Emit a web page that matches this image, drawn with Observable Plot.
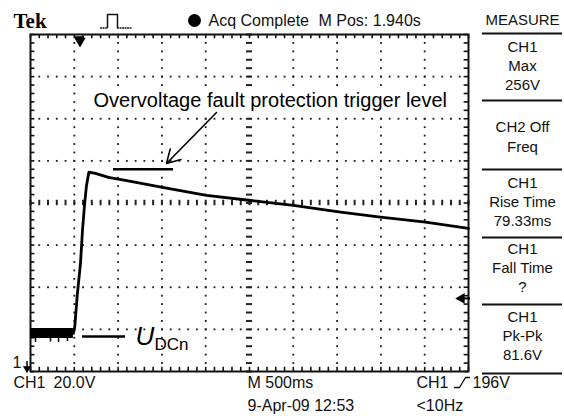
<!DOCTYPE html>
<html><head><meta charset="utf-8">
<script src="https://cdn.jsdelivr.net/npm/d3@7"></script>
<script src="https://cdn.jsdelivr.net/npm/@observablehq/plot@0.6"></script>
<style>html,body{margin:0;padding:0;background:#fff}</style>
</head><body><div id="chart"></div>
<script>
// ---- scope settings ----
const secPerDiv = 0.5;          // M 500ms
const voltsPerDiv = 20;         // CH1 20.0V
const hDivs = 10, vDivs = 8;
const screenBottomV = 161.3;    // volts at bottom graticule edge
const triggerLevelV = 196;      // CH1 trigger level

// ---- CH1 trace (time in s from left edge, volts) ----
const bandTime = [0, 0.49];
const bandLow = [177.0, 177.0];
const bandHigh = [181.7, 181.7];
const spikeTime = [0.057, 0.228, 0.320, 0.422];
const spikeLow = [175.1, 175.3, 175.1, 175.5];
const traceTime  = [0.49, 0.506, 0.533, 0.571, 0.594, 0.616, 0.639, 0.666, 0.742, 0.89, 1.084, 1.507, 2.009, 2.489, 3.002, 3.539, 3.995, 4.509, 5.0];
const traceVolts = [179.4, 182.8, 197.2, 212.9, 228.6, 240.0, 249.5, 255.9, 255.4, 253.5, 252.0, 248.7, 244.9, 242.6, 240.2, 237.0, 234.6, 232.2, 229.3];

// ---- annotation levels ----
const ovpLevelV = 257.3;   // overvoltage trigger level line
const udcLevelV = 177.9;   // U_DCn marker line

// ---- texts ----
const brand = "Tek";
const acqStatus = "Acq Complete";
const mPos = "M Pos: 1.940s";
const measureTitle = "MEASURE";
const measureBlocks = [["CH1", "Max", "256V"], ["CH2 Off", "Freq"], ["CH1", "Rise Time", "79.33ms"], ["CH1", "Fall Time", "?"], ["CH1", "Pk-Pk", "81.6V"]];
const chScale = ["CH1", "20.0V"];
const timebase = "M 500ms";
const trigInfo = ["CH1", "196V"];
const dateStamp = "9-Apr-09 12:53";
const freqInfo = "<10Hz";
const annotOvp = "Overvoltage fault protection trigger level";
const annotU = ["U", "DCn"];

// ---- geometry ----
const W = 564, H = 416, mL = 30, mR = 96, mT = 34, mB = 45;
const tMax = hDivs * secPerDiv, vTop = screenBottomV + vDivs * voltsPerDiv;
const px2t = px => (px - mL) / (W - mL - mR) * tMax;
const py2v = py => screenBottomV + (H - mB - py) / (H - mT - mB) * (vTop - screenBottomV);

const minorT = d3.range(0, hDivs * 5 + 1).map(i => i * secPerDiv / 5);
const minorV = d3.range(0, vDivs * 5 + 1).map(i => screenBottomV + i * voltsPerDiv / 5);
const majT = d3.range(1, hDivs).filter(i => i !== hDivs / 2).map(i => i * secPerDiv);
const majV = d3.range(1, vDivs).filter(i => i !== vDivs / 2).map(i => screenBottomV + i * voltsPerDiv);
const centerT = tMax / 2, centerV = screenBottomV + vDivs / 2 * voltsPerDiv;
const gridDots = [
  ...majT.flatMap(t => minorV.slice(1, -1).map(v => ({t, v}))),
  ...majV.flatMap(v => minorT.slice(1, -1).map(t => ({t, v})))
];
const trace = traceTime.map((t, i) => ({t, v: traceVolts[i]}));
const band = bandTime.map((t, i) => ({t, lo: bandLow[i], hi: bandHigh[i]}));
const spikes = spikeTime.map((t, i) => ({t, lo: spikeLow[i]}));

const tickV = 2.0 * voltsPerDiv / 20;     // border tick length
const tickT = 0.05 * secPerDiv / 0.5;

const panelLines = [33, 100, 169, 237, 304, 373];
const panelCenters = [[47, 66, 85], [127, 147], [183, 202, 221], [249, 268, 287], [317, 336, 355]];
const panelTexts = measureBlocks.flatMap((b, i) => b.map((s, j) => ({s, py: panelCenters[i][j]})));

const T = (text, px, py, o = {}) => Plot.text([text], {x: px2t(px), y: py2v(py), text: d => d, textAnchor: "start", fontSize: 16, fill: "#111", ...o});

const chart = Plot.plot({
  width: W, height: H,
  marginLeft: mL, marginRight: mR, marginTop: mT, marginBottom: mB,
  x: {domain: [0, tMax], axis: null},
  y: {domain: [screenBottomV, vTop], axis: null},
  style: {fontFamily: "Liberation Sans, Arial, sans-serif", background: "#fff"},
  marks: [
    // graticule
    Plot.dot(gridDots, {x: "t", y: "v", r: 1.05, fill: "#222", symbol: "square"}),
    Plot.ruleX(minorT, {x: d => d, y1: centerV - 1.3, y2: centerV + 1.3, stroke: "#222", strokeWidth: 2}),
    Plot.ruleY(minorV, {y: d => d, x1: centerT - 0.035, x2: centerT + 0.035, stroke: "#222", strokeWidth: 2}),
    Plot.ruleX(minorT, {x: d => d, y1: screenBottomV, y2: screenBottomV + tickV, stroke: "#111", strokeWidth: 1.6}),
    Plot.ruleX(minorT, {x: d => d, y1: vTop - tickV, y2: vTop, stroke: "#111", strokeWidth: 1.6}),
    Plot.ruleY(minorV, {y: d => d, x1: 0, x2: tickT, stroke: "#111", strokeWidth: 1.6}),
    Plot.ruleY(minorV, {y: d => d, x1: tMax - tickT, x2: tMax, stroke: "#111", strokeWidth: 1.6}),
    Plot.frame({stroke: "#111", strokeWidth: 2}),

    // trace
    Plot.areaY(band, {x: "t", y1: "lo", y2: "hi", fill: "#000"}),
    Plot.ruleX(spikes, {x: "t", y1: "lo", y2: bandLow[0], stroke: "#000", strokeWidth: 1.5}),
    Plot.line(trace, {x: "t", y: "v", stroke: "#000", strokeWidth: 2.8}),

    // markers
    Plot.ruleY([vTop], {x1: px2t(75), x2: px2t(84), dy: 3, stroke: "#000", strokeWidth: 2.5}),
    Plot.dot([0], {x: px2t(79.5), y: py2v(40.5), symbol: "triangle", rotate: 180, r: 4.2, fill: "#000"}),
    Plot.ruleY([triggerLevelV], {x1: px2t(460), x2: px2t(470), stroke: "#000", strokeWidth: 2}),
    Plot.dot([triggerLevelV], {x: px2t(461), y: d => d, symbol: "triangle", rotate: 270, r: 4, fill: "#000"}),
    Plot.ruleX([0], {x: px2t(26.5), y1: py2v(367), y2: py2v(361), stroke: "#000", strokeWidth: 1.5}),
    Plot.dot([0], {x: px2t(26.5), y: py2v(368), symbol: "triangle", rotate: 180, r: 3, fill: "#000"}),
    T("1", 12, 362, {fontSize: 16}),

    // annotations
    Plot.rect([0], {x1: px2t(89), x2: px2t(459), y1: py2v(87), y2: py2v(113), fill: "#fff"}),
    Plot.ruleY([ovpLevelV], {x1: px2t(113), x2: px2t(173), stroke: "#000", strokeWidth: 2.6}),
    Plot.arrow([0], {x1: px2t(216), y1: py2v(112), x2: px2t(166), y2: py2v(163), stroke: "#000", strokeWidth: 1.6, headLength: 14, bend: 0}),
    T(annotOvp, 93, 100, {fontSize: 20, fill: "#000"}),
    Plot.ruleY([udcLevelV], {x1: px2t(82), x2: px2t(125), stroke: "#000", strokeWidth: 2.5}),
    T(annotU[0], 135, 336, {fontSize: 26, fontStyle: "italic", fill: "#000"}),
    T(annotU[1], 154, 344, {fontSize: 17, fill: "#000"}),

    // header
    T(brand, 13, 21, {fontSize: 21, fontWeight: "bold", fontFamily: "Liberation Serif, Times New Roman, serif", fill: "#000"}),
    Plot.line([[107, 27], [107, 14], [117, 14], [117, 27]], {x: d => px2t(d[0]), y: d => py2v(d[1]), stroke: "#111", strokeWidth: 1.5}),
    Plot.line([[100, 27.5], [107, 27.5]], {x: d => px2t(d[0]), y: d => py2v(d[1]), stroke: "#111", strokeWidth: 1.3, strokeDasharray: "1,1.5"}),
    Plot.line([[117, 27.5], [131, 27.5]], {x: d => px2t(d[0]), y: d => py2v(d[1]), stroke: "#111", strokeWidth: 1.3, strokeDasharray: "1,1.5"}),
    Plot.dot([0], {x: px2t(194), y: py2v(20), r: 6.5, fill: "#000"}),
    T(acqStatus, 208, 20),
    T(mPos, 318, 20),
    T(measureTitle, 522, 20, {textAnchor: "middle", fontSize: 15}),

    // measure panel
    Plot.ruleY(panelLines, {y: d => py2v(d), x1: px2t(482), x2: px2t(562), stroke: "#111", strokeWidth: 2}),
    Plot.text(panelTexts, {x: px2t(522), y: d => py2v(d.py), text: "s", textAnchor: "middle", fontSize: 15, fill: "#111"}),

    // footer
    T(chScale[0], 13, 382),
    T(chScale[1], 53, 382),
    T(timebase, 247, 382),
    T(trigInfo[0], 416, 382),
    Plot.line([[454, 387], [459, 387], [465, 377], [469, 377]], {x: d => px2t(d[0]), y: d => py2v(d[1]), stroke: "#111", strokeWidth: 1.4}),
    T(trigInfo[1], 472, 382),
    T(dateStamp, 247, 405),
    T(freqInfo, 416, 405)
  ]
});
document.getElementById("chart").appendChild(chart);
</script>
</body></html>
